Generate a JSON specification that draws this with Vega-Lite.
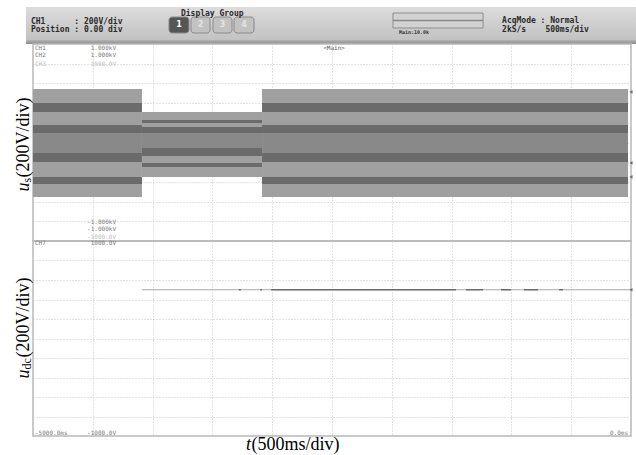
{
  "$schema": "https://vega.github.io/schema/vega-lite/v6.json",
  "background": "white",
  "padding": {"left": 13, "top": 7, "right": 0, "bottom": 0},
  "spacing": 0,
  "bounds": "flush",
  "resolve": {"scale": {"x": "independent", "y": "independent", "color": "independent"}},
  "config": {
    "view": {"stroke": "#b8b8b8", "strokeWidth": 1.5},
    "axis": {"gridColor": "#c6c6c6", "gridDash": [1, 2], "gridWidth": 1},
    "text": {"font": "DejaVu Sans Mono"}
  },
  "datasets": {
    "header_bg": [{"t": -5059, "t_end": 50, "h": 0, "h_end": 33}],
    "header_edge": [{"t": -5059, "t_end": 50, "h": 33, "h_end": 37}],
    "header_text": [
      {"t": -5017, "h": 17, "label": "CH1\u00a0\u00a0\u00a0\u00a0\u00a0\u00a0: 200V/div"},
      {"t": -5017, "h": 24.5, "label": "Position : 0.00 div"},
      {"t": -3763, "h": 8.5, "label": "Display Group"},
      {"t": -1078, "h": 16, "label": "AcqMode : Normal"},
      {"t": -1078, "h": 24.5, "label": "2kS/s\u00a0\u00a0\u00a0\u00a0500ms/div"}
    ],
    "header_small": [{"t": -1940, "h": 27, "label": "Main:10.0k"}],
    "buttons": [
      {"t": -3863, "t_end": -3696, "h": 10, "h_end": 26, "tc": -3779, "label": "1", "state": "on"},
      {"t": -3679, "t_end": -3520, "h": 10, "h_end": 26, "tc": -3600, "label": "2", "state": "off"},
      {"t": -3495, "t_end": -3336, "h": 10, "h_end": 26, "tc": -3416, "label": "3", "state": "off"},
      {"t": -3319, "t_end": -3152, "h": 10, "h_end": 26, "tc": -3236, "label": "4", "state": "off"}
    ],
    "progress": [{"t": -1990, "t_end": -1237, "h": 6, "h_end": 21, "hm": 13.5}],
    "wave": [
      {"t": -5000, "t_end": -4089, "v": 543, "v_end": 401, "shade": "light"},
      {"t": -5000, "t_end": -4089, "v": 401, "v_end": 310, "shade": "dark"},
      {"t": -5000, "t_end": -4089, "v": 310, "v_end": 178, "shade": "light"},
      {"t": -5000, "t_end": -4089, "v": 178, "v_end": 96, "shade": "dark"},
      {"t": -5000, "t_end": -4089, "v": 96, "v_end": -107, "shade": "mid"},
      {"t": -5000, "t_end": -4089, "v": -107, "v_end": -198, "shade": "dark"},
      {"t": -5000, "t_end": -4089, "v": -198, "v_end": -350, "shade": "light"},
      {"t": -5000, "t_end": -4089, "v": -350, "v_end": -421, "shade": "dark"},
      {"t": -5000, "t_end": -4089, "v": -421, "v_end": -553, "shade": "light"},
      {"t": -4089, "t_end": -3085, "v": 310, "v_end": 228, "shade": "light"},
      {"t": -4089, "t_end": -3085, "v": 228, "v_end": 198, "shade": "dark"},
      {"t": -4089, "t_end": -3085, "v": 198, "v_end": 157, "shade": "light"},
      {"t": -4089, "t_end": -3085, "v": 157, "v_end": 96, "shade": "dark"},
      {"t": -4089, "t_end": -3085, "v": 96, "v_end": -56, "shade": "mid"},
      {"t": -4089, "t_end": -3085, "v": -56, "v_end": -137, "shade": "dark"},
      {"t": -4089, "t_end": -3085, "v": -137, "v_end": -208, "shade": "light"},
      {"t": -4089, "t_end": -3085, "v": -208, "v_end": -249, "shade": "dark"},
      {"t": -4089, "t_end": -3085, "v": -249, "v_end": -350, "shade": "light"},
      {"t": -3085, "t_end": -25, "v": 543, "v_end": 401, "shade": "light"},
      {"t": -3085, "t_end": -25, "v": 401, "v_end": 310, "shade": "dark"},
      {"t": -3085, "t_end": -25, "v": 310, "v_end": 178, "shade": "light"},
      {"t": -3085, "t_end": -25, "v": 178, "v_end": 96, "shade": "dark"},
      {"t": -3085, "t_end": -25, "v": 96, "v_end": -107, "shade": "mid"},
      {"t": -3085, "t_end": -25, "v": -107, "v_end": -198, "shade": "dark"},
      {"t": -3085, "t_end": -25, "v": -198, "v_end": -350, "shade": "light"},
      {"t": -3085, "t_end": -25, "v": -350, "v_end": -421, "shade": "dark"},
      {"t": -3085, "t_end": -25, "v": -421, "v_end": -553, "shade": "light"}
    ],
    "top_left_labels": [
      {"t": -5000, "v": 959, "label": "CH1", "tone": "normal"},
      {"t": -5000, "v": 888, "label": "CH2", "tone": "normal"},
      {"t": -5000, "v": 800, "label": "CH3", "tone": "dim"}
    ],
    "top_right_labels": [
      {"t": -4306, "v": 959, "label": "1.000kV", "tone": "normal"},
      {"t": -4306, "v": 888, "label": "1.000kV", "tone": "normal"},
      {"t": -4306, "v": 800, "label": "1000.0V", "tone": "dim"},
      {"t": -4306, "v": -807, "label": "-1.000kV", "tone": "normal"},
      {"t": -4306, "v": -883, "label": "-1.000kV", "tone": "normal"},
      {"t": -4306, "v": -959, "label": "-1000.0V", "tone": "dim"}
    ],
    "main_label": [{"t": -2483, "v": 959, "label": "<Main>"}],
    "top_markers": [{"t": 0, "v": 513}, {"t": 0, "v": -208}, {"t": 0, "v": -350}],
    "y_title_anchor": [{"t": -5000, "v": 0}],
    "x_title_anchor": [{"t": -2500, "v": -1000}],
    "dc": [
      {"t": -4089, "t_end": 0, "v": 500, "tone": "thin"},
      {"t": -3278, "t_end": -3262, "v": 500, "tone": "thick"},
      {"t": -3100, "t_end": -3085, "v": 500, "tone": "thick"},
      {"t": -3010, "t_end": -1463, "v": 500, "tone": "thick"},
      {"t": -1380, "t_end": -1237, "v": 500, "tone": "thick"},
      {"t": -1087, "t_end": -1003, "v": 500, "tone": "thick"},
      {"t": -895, "t_end": -778, "v": 500, "tone": "thick"},
      {"t": -602, "t_end": -569, "v": 500, "tone": "thick"}
    ],
    "bottom_left_labels": [
      {"t": -5000, "v": 979, "label": "CH7"},
      {"t": -5000, "v": -969, "label": "-5000.0ms"}
    ],
    "bottom_right_labels": [
      {"t": -4306, "v": 979, "label": "1000.0V"},
      {"t": -4306, "v": -969, "label": "-1000.0V"},
      {"t": -25, "v": -969, "label": "0.0ms"}
    ],
    "bottom_markers": [{"t": 0, "v": 500}]
  },
  "vconcat": [
    {
      "width": 598,
      "height": 37,
      "view": {"stroke": null},
      "encoding": {
        "x": {"field": "t", "type": "quantitative", "scale": {"domain": [-5000, 0], "nice": false, "zero": false}, "axis": null},
        "y": {"field": "h", "type": "quantitative", "scale": {"domain": [0, 37], "nice": false, "zero": false, "reverse": true}, "axis": null}
      },
      "resolve": {"scale": {"color": "independent"}},
      "layer": [
        {
          "data": {"name": "header_bg"},
          "mark": {"type": "rect", "color": {"gradient": "linear", "x1": 0, "y1": 0, "x2": 0, "y2": 1, "stops": [{"offset": 0, "color": "#dcdcdc"}, {"offset": 1, "color": "#c2c2c2"}]}},
          "encoding": {"x2": {"field": "t_end"}, "y2": {"field": "h_end"}}
        },
        {
          "data": {"name": "header_edge"},
          "mark": {"type": "rect", "color": {"gradient": "linear", "x1": 0, "y1": 0, "x2": 0, "y2": 1, "stops": [{"offset": 0, "color": "#b4b4b4"}, {"offset": 1, "color": "#8c8c8c"}]}},
          "encoding": {"x2": {"field": "t_end"}, "y2": {"field": "h_end"}}
        },
        {
          "data": {"name": "progress"},
          "mark": {"type": "rect", "fill": "#d2d2d2", "stroke": "#8e8e8e", "strokeWidth": 1},
          "encoding": {"x2": {"field": "t_end"}, "y2": {"field": "h_end"}}
        },
        {
          "data": {"name": "progress"},
          "mark": {"type": "rule", "color": "#8a8a8a", "strokeWidth": 1.5},
          "encoding": {"x2": {"field": "t_end"}, "y": {"field": "hm", "type": "quantitative"}}
        },
        {
          "data": {"name": "buttons"},
          "mark": {"type": "rect", "cornerRadius": 3, "stroke": "#8a8a8a", "strokeWidth": 1},
          "encoding": {
            "x2": {"field": "t_end"},
            "y2": {"field": "h_end"},
            "color": {"field": "state", "type": "nominal", "scale": {"domain": ["on", "off"], "range": ["#555555", "#c2c2c2"]}, "legend": null}
          }
        },
        {
          "data": {"name": "buttons"},
          "mark": {"type": "text", "font": "DejaVu Sans", "fontSize": 8, "fontWeight": "bold", "baseline": "middle", "align": "center"},
          "encoding": {
            "x": {"field": "tc", "type": "quantitative"},
            "y": {"datum": 18},
            "text": {"field": "label"},
            "color": {"field": "state", "type": "nominal", "scale": {"domain": ["on", "off"], "range": ["#ffffff", "#e4e4e4"]}, "legend": null}
          }
        },
        {
          "data": {"name": "header_text"},
          "mark": {"type": "text", "font": "DejaVu Sans Mono", "fontSize": 8, "fontWeight": "bold", "align": "left", "baseline": "alphabetic", "color": "#2b2b2b"},
          "encoding": {"text": {"field": "label"}}
        },
        {
          "data": {"name": "header_small"},
          "mark": {"type": "text", "font": "DejaVu Sans Mono", "fontSize": 5, "fontWeight": "bold", "align": "left", "baseline": "alphabetic", "color": "#333333"},
          "encoding": {"text": {"field": "label"}}
        }
      ]
    },
    {
      "width": 598,
      "height": 197,
      "encoding": {
        "x": {"field": "t", "type": "quantitative", "scale": {"domain": [-5000, 0], "nice": false, "zero": false},
              "axis": {"values": [-4500, -4000, -3500, -3000, -2500, -2000, -1500, -1000, -500], "grid": true, "labels": false, "ticks": false, "domain": false, "title": null}},
        "y": {"field": "v", "type": "quantitative", "scale": {"domain": [-1000, 1000], "nice": false, "zero": false},
              "axis": {"values": [-800, -600, -400, -200, 0, 200, 400, 600, 800], "grid": true, "labels": false, "ticks": false, "domain": false, "title": null}}
      },
      "resolve": {"scale": {"color": "independent"}},
      "layer": [
        {
          "data": {"name": "wave"},
          "mark": {"type": "rect"},
          "encoding": {
            "x2": {"field": "t_end"},
            "y2": {"field": "v_end"},
            "color": {"field": "shade", "type": "nominal", "scale": {"domain": ["light", "mid", "dark"], "range": ["#a0a0a0", "#898989", "#6b6b6b"]}, "legend": null}
          }
        },
        {
          "data": {"name": "top_left_labels"},
          "mark": {"type": "text", "fontSize": 6, "align": "left", "baseline": "middle", "dx": 2},
          "encoding": {
            "text": {"field": "label"},
            "color": {"field": "tone", "type": "nominal", "scale": {"domain": ["normal", "dim"], "range": ["#7a7a7a", "#c0c0c0"]}, "legend": null}
          }
        },
        {
          "data": {"name": "top_right_labels"},
          "mark": {"type": "text", "fontSize": 6, "align": "right", "baseline": "middle"},
          "encoding": {
            "text": {"field": "label"},
            "color": {"field": "tone", "type": "nominal", "scale": {"domain": ["normal", "dim"], "range": ["#7a7a7a", "#c0c0c0"]}, "legend": null}
          }
        },
        {
          "data": {"name": "main_label"},
          "mark": {"type": "text", "fontSize": 6, "align": "center", "baseline": "middle", "color": "#555555"},
          "encoding": {"text": {"field": "label"}}
        },
        {
          "data": {"name": "top_markers"},
          "mark": {"type": "point", "shape": "triangle-left", "filled": true, "size": 14, "color": "#444444"},
          "encoding": {}
        },
        {
          "data": {"name": "y_title_anchor"},
          "mark": {"type": "text", "font": "Liberation Serif", "fontSize": 18, "fontStyle": "italic", "angle": 270, "align": "left", "baseline": "alphabetic", "dx": -49, "dy": -4.5, "color": "#000000"},
          "encoding": {"text": {"value": "u"}}
        },
        {
          "data": {"name": "y_title_anchor"},
          "mark": {"type": "text", "font": "Liberation Serif", "fontSize": 12, "angle": 270, "align": "left", "baseline": "alphabetic", "dx": -40, "dy": -2, "color": "#000000"},
          "encoding": {"text": {"value": "s"}}
        },
        {
          "data": {"name": "y_title_anchor"},
          "mark": {"type": "text", "font": "Liberation Serif", "fontSize": 18, "angle": 270, "align": "left", "baseline": "alphabetic", "dx": -35, "dy": -4.5, "color": "#000000"},
          "encoding": {"text": {"value": "(200V/div)"}}
        }
      ]
    },
    {
      "width": 598,
      "height": 195,
      "encoding": {
        "x": {"field": "t", "type": "quantitative", "scale": {"domain": [-5000, 0], "nice": false, "zero": false},
              "axis": {"values": [-4500, -4000, -3500, -3000, -2500, -2000, -1500, -1000, -500], "grid": true, "labels": false, "ticks": false, "domain": false, "title": null}},
        "y": {"field": "v", "type": "quantitative", "scale": {"domain": [-1000, 1000], "nice": false, "zero": false},
              "axis": {"values": [-800, -600, -400, -200, 0, 200, 400, 600, 800], "grid": true, "labels": false, "ticks": false, "domain": false, "title": null}}
      },
      "layer": [
        {
          "data": {"name": "dc"},
          "transform": [{"filter": "datum.tone == 'thin'"}],
          "mark": {"type": "rule", "color": "#a8a8a8", "strokeWidth": 1},
          "encoding": {"x2": {"field": "t_end"}}
        },
        {
          "data": {"name": "dc"},
          "transform": [{"filter": "datum.tone == 'thick'"}],
          "mark": {"type": "rule", "color": "#6e6e6e", "strokeWidth": 1.5},
          "encoding": {"x2": {"field": "t_end"}}
        },
        {
          "data": {"name": "bottom_left_labels"},
          "mark": {"type": "text", "fontSize": 6, "align": "left", "baseline": "middle", "dx": 2, "color": "#7a7a7a"},
          "encoding": {"text": {"field": "label"}}
        },
        {
          "data": {"name": "bottom_right_labels"},
          "mark": {"type": "text", "fontSize": 6, "align": "right", "baseline": "middle", "color": "#7a7a7a"},
          "encoding": {"text": {"field": "label"}}
        },
        {
          "data": {"name": "bottom_markers"},
          "mark": {"type": "point", "shape": "triangle-left", "filled": true, "size": 14, "color": "#444444"},
          "encoding": {}
        },
        {
          "data": {"name": "y_title_anchor"},
          "mark": {"type": "text", "font": "Liberation Serif", "fontSize": 18, "fontStyle": "italic", "angle": 270, "align": "left", "baseline": "alphabetic", "dx": -40, "dy": -4.5, "color": "#000000"},
          "encoding": {"text": {"value": "u"}}
        },
        {
          "data": {"name": "y_title_anchor"},
          "mark": {"type": "text", "font": "Liberation Serif", "fontSize": 12, "angle": 270, "align": "left", "baseline": "alphabetic", "dx": -31, "dy": -2, "color": "#000000"},
          "encoding": {"text": {"value": "dc"}}
        },
        {
          "data": {"name": "y_title_anchor"},
          "mark": {"type": "text", "font": "Liberation Serif", "fontSize": 18, "angle": 270, "align": "left", "baseline": "alphabetic", "dx": -19, "dy": -4.5, "color": "#000000"},
          "encoding": {"text": {"value": "(200V/div)"}}
        },
        {
          "data": {"name": "x_title_anchor"},
          "mark": {"type": "text", "font": "Liberation Serif", "fontSize": 18, "fontStyle": "italic", "align": "left", "baseline": "alphabetic", "dx": -86, "dy": 14, "color": "#000000"},
          "encoding": {"text": {"value": "t"}}
        },
        {
          "data": {"name": "x_title_anchor"},
          "mark": {"type": "text", "font": "Liberation Serif", "fontSize": 18, "align": "left", "baseline": "alphabetic", "dx": -80.5, "dy": 14, "color": "#000000"},
          "encoding": {"text": {"value": "(500ms/div)"}}
        }
      ]
    }
  ]
}
